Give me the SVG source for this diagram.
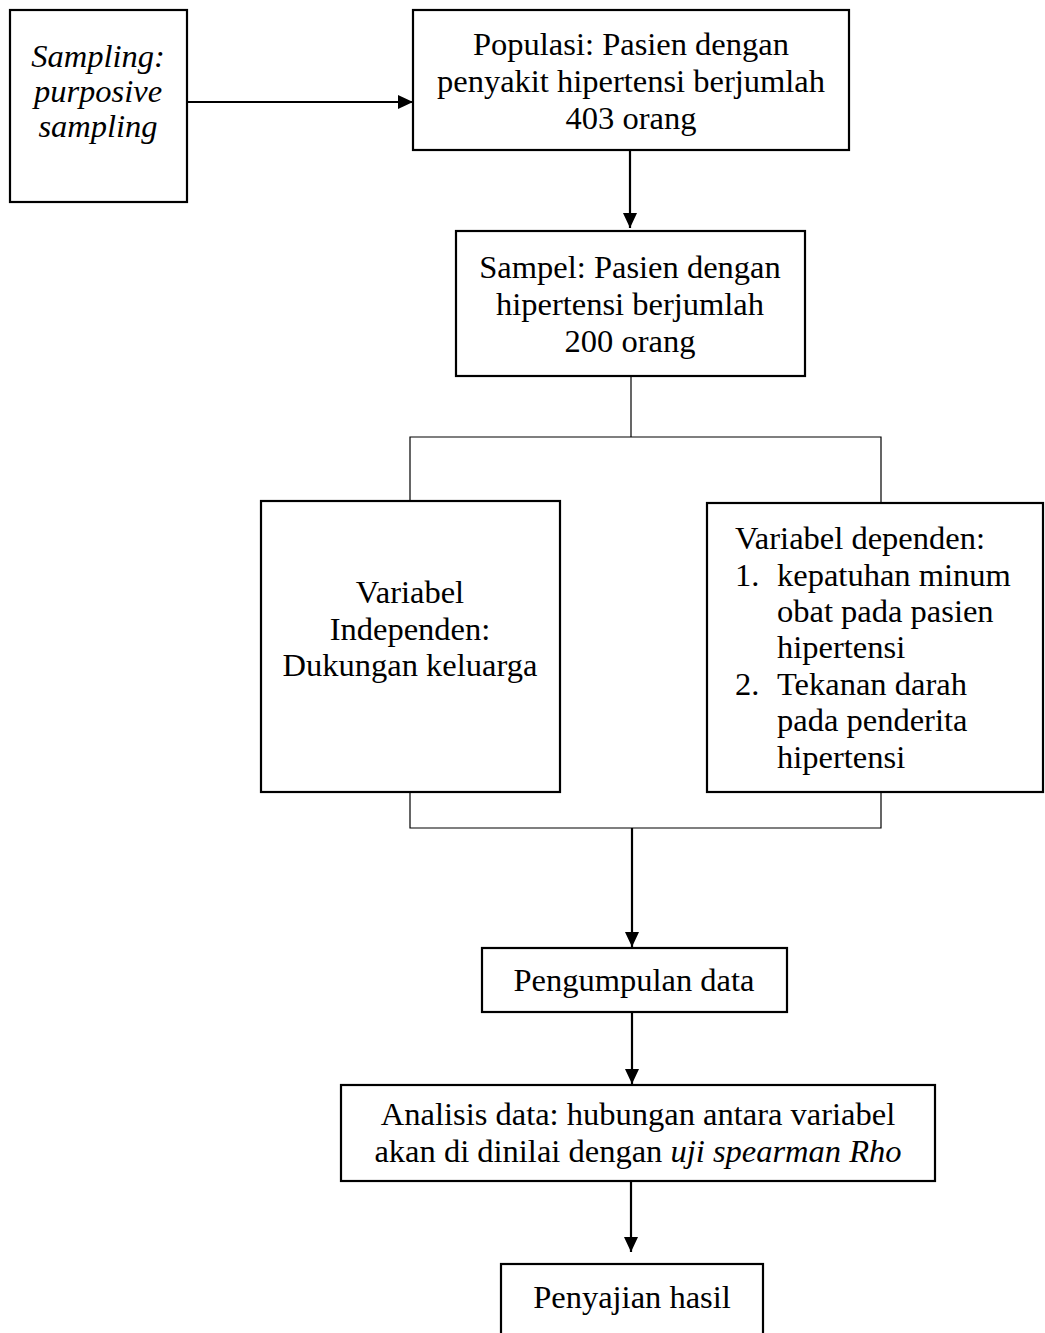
<svg xmlns="http://www.w3.org/2000/svg" width="1045" height="1333" viewBox="0 0 1045 1333">
<style>
.box{fill:#fff;stroke:#000;stroke-width:2.2}
.t{font-family:"Liberation Serif","Times New Roman",serif;font-size:32.5px;fill:#000}
.c{text-anchor:middle}
.i{font-style:italic}
.thick{stroke:#000;stroke-width:2.2;fill:none}
.thin{stroke:#000;stroke-width:1.2;fill:none}
</style>
<defs>
<marker id="ah" markerUnits="userSpaceOnUse" markerWidth="16" markerHeight="14" refX="15" refY="7" orient="auto">
<path d="M0,0 L15,7 L0,14 Z" fill="#000"/>
</marker>
</defs>
<rect width="1045" height="1333" fill="#fff"/>
<g id="connectors">
<line class="thick" x1="188" y1="102" x2="413" y2="102" marker-end="url(#ah)"/>
<line class="thick" x1="630" y1="151" x2="630" y2="228" marker-end="url(#ah)"/>
<line class="thin" x1="631" y1="377" x2="631" y2="437"/>
<polyline class="thin" points="410,500 410,437 881,437 881,502"/>
<polyline class="thin" points="410,793 410,828 881,828 881,793"/>
<line class="thick" x1="632" y1="828" x2="632" y2="947" marker-end="url(#ah)"/>
<line class="thick" x1="632" y1="1013" x2="632" y2="1084" marker-end="url(#ah)"/>
<line class="thick" x1="631" y1="1181" x2="631" y2="1252" marker-end="url(#ah)"/>
</g>
<g id="sampling">
<rect class="box" x="10" y="10" width="177" height="192"/>
<text class="t c i" x="98" y="67">Sampling:</text>
<text class="t c i" x="98" y="102">purposive</text>
<text class="t c i" x="98" y="137">sampling</text>
</g>
<g id="populasi">
<rect class="box" x="413" y="10" width="436" height="140"/>
<text class="t c" x="631" y="55">Populasi: Pasien dengan</text>
<text class="t c" x="631" y="92">penyakit hipertensi berjumlah</text>
<text class="t c" x="631" y="129">403 orang</text>
</g>
<g id="sampel">
<rect class="box" x="456" y="231" width="349" height="145"/>
<text class="t c" x="630" y="278">Sampel: Pasien dengan</text>
<text class="t c" x="630" y="315">hipertensi berjumlah</text>
<text class="t c" x="630" y="352">200 orang</text>
</g>
<g id="independen">
<rect class="box" x="261" y="501" width="299" height="291"/>
<text class="t c" x="410" y="603">Variabel</text>
<text class="t c" x="410" y="640">Independen:</text>
<text class="t c" x="410" y="676">Dukungan keluarga</text>
</g>
<g id="dependen">
<rect class="box" x="707" y="503" width="336" height="289"/>
<text class="t" x="735" y="549">Variabel dependen:</text>
<text class="t" x="735" y="586">1.</text>
<text class="t" x="777" y="586">kepatuhan minum</text>
<text class="t" x="777" y="622">obat pada pasien</text>
<text class="t" x="777" y="658">hipertensi</text>
<text class="t" x="735" y="695">2.</text>
<text class="t" x="777" y="695">Tekanan darah</text>
<text class="t" x="777" y="731">pada penderita</text>
<text class="t" x="777" y="768">hipertensi</text>
</g>
<g id="pengumpulan">
<rect class="box" x="482" y="948" width="305" height="64"/>
<text class="t c" x="634" y="991">Pengumpulan data</text>
</g>
<g id="analisis">
<rect class="box" x="341" y="1085" width="594" height="96"/>
<text class="t c" x="638" y="1125">Analisis data: hubungan antara variabel</text>
<text class="t c" x="638" y="1162">akan di dinilai dengan <tspan class="i">uji spearman Rho</tspan></text>
</g>
<g id="penyajian">
<rect class="box" x="501" y="1264" width="262" height="80"/>
<text class="t c" x="632" y="1308">Penyajian hasil</text>
</g>
</svg>
